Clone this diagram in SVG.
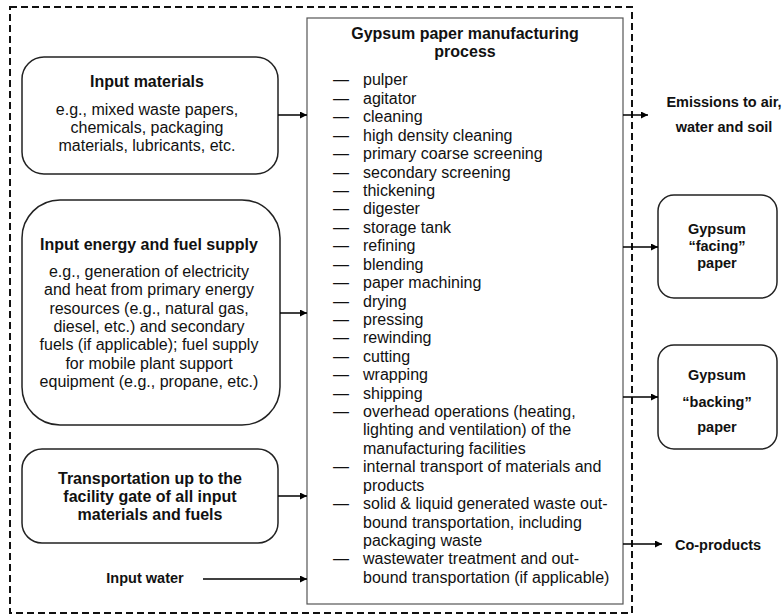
<svg xmlns="http://www.w3.org/2000/svg" width="782" height="615" viewBox="0 0 782 615">
<style>
.box{fill:#fff;stroke:#222;stroke-width:1.5}
.t{font-family:"Liberation Sans",Arial,sans-serif;font-size:16px;fill:#111;text-anchor:middle}
.b{font-weight:bold;font-size:16px}
.s{font-weight:bold;font-size:14.5px}
.li{font-family:"Liberation Sans",Arial,sans-serif;font-size:16px;fill:#111}
.c{stroke:#000;stroke-width:1.5;fill:none;marker-end:url(#ah)}
</style>
<defs>
<marker id="ah" viewBox="0 0 10 10" refX="10" refY="5" markerWidth="8" markerHeight="7" markerUnits="userSpaceOnUse" orient="auto">
<path d="M0,0 L10,5 L0,10 z" fill="#000"/>
</marker>
</defs>
<rect x="10" y="7" width="622" height="606" fill="none" stroke="#111" stroke-width="2" stroke-dasharray="7,4"/>
<g id="process">
<rect x="307" y="18" width="316" height="586" fill="#fff" stroke="#555" stroke-width="1.2"/>
<text class="t b" x="465" y="39">Gypsum paper manufacturing</text>
<text class="t b" x="465" y="57">process</text>
<g class="li">
<text x="333" y="85">—</text><text x="363" y="85">pulper</text>
<text x="333" y="104">—</text><text x="363" y="104">agitator</text>
<text x="333" y="122">—</text><text x="363" y="122">cleaning</text>
<text x="333" y="141">—</text><text x="363" y="141">high density cleaning</text>
<text x="333" y="159">—</text><text x="363" y="159">primary coarse screening</text>
<text x="333" y="178">—</text><text x="363" y="178">secondary screening</text>
<text x="333" y="196">—</text><text x="363" y="196">thickening</text>
<text x="333" y="214">—</text><text x="363" y="214">digester</text>
<text x="333" y="233">—</text><text x="363" y="233">storage tank</text>
<text x="333" y="251">—</text><text x="363" y="251">refining</text>
<text x="333" y="270">—</text><text x="363" y="270">blending</text>
<text x="333" y="288">—</text><text x="363" y="288">paper machining</text>
<text x="333" y="307">—</text><text x="363" y="307">drying</text>
<text x="333" y="325">—</text><text x="363" y="325">pressing</text>
<text x="333" y="343">—</text><text x="363" y="343">rewinding</text>
<text x="333" y="362">—</text><text x="363" y="362">cutting</text>
<text x="333" y="380">—</text><text x="363" y="380">wrapping</text>
<text x="333" y="399">—</text><text x="363" y="399">shipping</text>
<text x="333" y="417">—</text><text x="363" y="417">overhead operations (heating,</text>
<text x="363" y="435">lighting and ventilation) of the</text>
<text x="363" y="454">manufacturing facilities</text>
<text x="333" y="472">—</text><text x="363" y="472">internal transport of materials and</text>
<text x="363" y="491">products</text>
<text x="333" y="509">—</text><text x="363" y="509">solid &amp; liquid generated waste out-</text>
<text x="363" y="528">bound transportation, including</text>
<text x="363" y="546">packaging waste</text>
<text x="333" y="564">—</text><text x="363" y="564">wastewater treatment and out-</text>
<text x="363" y="583">bound transportation (if applicable)</text>
</g>
</g>
<g id="input-materials">
<rect class="box" x="22" y="57" width="256" height="117" rx="22"/>
<text class="t b" x="147" y="87">Input materials</text>
<text class="t" x="147" y="115">e.g., mixed waste papers,</text>
<text class="t" x="147" y="133">chemicals, packaging</text>
<text class="t" x="147" y="151">materials, lubricants, etc.</text>
</g>
<g id="input-energy">
<rect class="box" x="22" y="200" width="258" height="225" rx="38"/>
<text class="t b" x="149" y="250">Input energy and fuel supply</text>
<text class="t" x="149" y="277">e.g., generation of electricity</text>
<text class="t" x="149" y="295">and heat from primary energy</text>
<text class="t" x="149" y="314">resources (e.g., natural gas,</text>
<text class="t" x="149" y="332">diesel, etc.) and secondary</text>
<text class="t" x="149" y="350">fuels (if applicable); fuel supply</text>
<text class="t" x="149" y="369">for mobile plant support</text>
<text class="t" x="149" y="387">equipment (e.g., propane, etc.)</text>
</g>
<g id="transportation">
<rect class="box" x="22" y="449" width="256" height="94" rx="20"/>
<text class="t b" x="150" y="484">Transportation up to the</text>
<text class="t b" x="150" y="502">facility gate of all input</text>
<text class="t b" x="150" y="520">materials and fuels</text>
</g>
<g id="input-water">
<text class="t s" x="145" y="583">Input water</text>
</g>
<g id="emissions">
<text class="t s" x="724" y="107">Emissions to air,</text>
<text class="t s" x="724" y="132">water and soil</text>
</g>
<g id="facing">
<rect class="box" x="658" y="195" width="119" height="103" rx="16"/>
<text class="t s" x="717" y="234">Gypsum</text>
<text class="t s" x="717" y="251">“facing”</text>
<text class="t s" x="717" y="268">paper</text>
</g>
<g id="backing">
<rect class="box" x="658" y="345" width="119" height="104" rx="16"/>
<text class="t s" x="717" y="380">Gypsum</text>
<text class="t s" x="717" y="407">“backing”</text>
<text class="t s" x="717" y="432">paper</text>
</g>
<g id="coproducts">
<text class="t s" x="718" y="550">Co-products</text>
</g>
<g id="connectors">
<line class="c" x1="278" y1="115" x2="307" y2="115"/>
<line class="c" x1="280" y1="313" x2="307" y2="313"/>
<line class="c" x1="278" y1="496" x2="307" y2="496"/>
<line class="c" x1="203" y1="579" x2="307" y2="579"/>
<line class="c" x1="623" y1="115" x2="648" y2="115"/>
<line class="c" x1="623" y1="247" x2="658" y2="247"/>
<line class="c" x1="623" y1="397" x2="658" y2="397"/>
<line class="c" x1="623" y1="544" x2="662" y2="544"/>
</g>
</svg>
